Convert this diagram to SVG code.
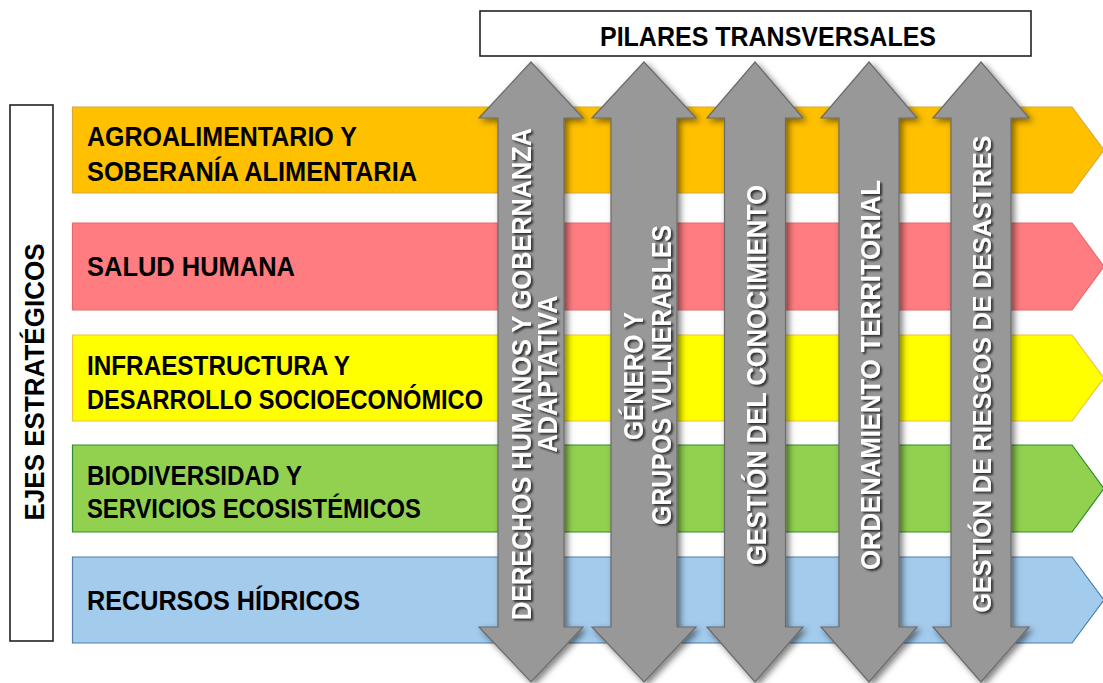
<svg xmlns="http://www.w3.org/2000/svg" width="1103" height="683" viewBox="0 0 1103 683">
<defs>
<filter id="ash" x="-20%" y="-10%" width="150%" height="130%">
<feDropShadow dx="3" dy="3" stdDeviation="3" flood-color="#000" flood-opacity="0.5"/>
</filter>
<filter id="tsh" x="-20%" y="-20%" width="140%" height="160%">
<feDropShadow dx="2" dy="2" stdDeviation="1.2" flood-color="#000" flood-opacity="0.7"/>
</filter>
</defs>
<style>
.bt{font-family:"Liberation Sans",Arial,sans-serif;font-weight:bold;font-size:27px;fill:#000}
.at{font-family:"Liberation Sans",Arial,sans-serif;font-weight:bold;font-size:27px;fill:#fff;text-anchor:middle}
.arr{fill:#989898;stroke:#6b6b6b;stroke-width:1.2}
.box{fill:#fff;stroke:#222;stroke-width:1.6}
</style>
<rect width="1103" height="683" fill="#fff"/>

<g id="ejes-box">
<rect class="box" x="10" y="105" width="43" height="536"/>
<text class="bt" text-anchor="middle" transform="translate(44,382) rotate(-90)" textLength="277" lengthAdjust="spacingAndGlyphs">EJES ESTRATÉGICOS</text>
</g>

<g id="pilares-box">
<rect class="box" x="480" y="11" width="551" height="45"/>
<text class="bt" x="768" y="46" text-anchor="middle" textLength="336" lengthAdjust="spacingAndGlyphs">PILARES TRANSVERSALES</text>
</g>

<g id="band-agro">
<path d="M72.5,107 H1072 L1104,150 L1072,193 H72.5 Z" fill="#FFC000" stroke="#D9A83A" stroke-width="1.2"/>
<text class="bt" x="87" y="146" textLength="270" lengthAdjust="spacingAndGlyphs">AGROALIMENTARIO Y</text>
<text class="bt" x="87" y="181" textLength="330" lengthAdjust="spacingAndGlyphs">SOBERANÍA ALIMENTARIA</text>
</g>
<g id="band-salud">
<path d="M72.5,223 H1072 L1104,266.5 L1072,310 H72.5 Z" fill="#FF7C80" stroke="#E8686C" stroke-width="1.2"/>
<text class="bt" x="87" y="276" textLength="208" lengthAdjust="spacingAndGlyphs">SALUD HUMANA</text>
</g>
<g id="band-infra">
<path d="M72.5,335 H1072 L1104,378 L1072,421 H72.5 Z" fill="#FFFF00" stroke="#F0C040" stroke-width="1.2"/>
<text class="bt" x="87" y="375" textLength="263" lengthAdjust="spacingAndGlyphs">INFRAESTRUCTURA Y</text>
<text class="bt" x="87" y="409" textLength="396" lengthAdjust="spacingAndGlyphs">DESARROLLO SOCIOECONÓMICO</text>
</g>
<g id="band-bio">
<path d="M72.5,445 H1072 L1104,488.5 L1072,532 H72.5 Z" fill="#92D050" stroke="#2E8B2E" stroke-width="1.2"/>
<text class="bt" x="87" y="485" textLength="215" lengthAdjust="spacingAndGlyphs">BIODIVERSIDAD Y</text>
<text class="bt" x="87" y="518" textLength="334" lengthAdjust="spacingAndGlyphs">SERVICIOS ECOSISTÉMICOS</text>
</g>
<g id="band-hidricos">
<path d="M72.5,557 H1072 L1104,600 L1072,643 H72.5 Z" fill="#A3CBEC" stroke="#4F7FAA" stroke-width="1.2"/>
<text class="bt" x="87" y="610" textLength="273" lengthAdjust="spacingAndGlyphs">RECURSOS HÍDRICOS</text>
</g>

<g id="pilar-derechos">
<path class="arr" filter="url(#ash)" d="M531,62 L583,118 H564 V627 H583 L531,682 L479,627 H498 V118 H479 Z"/>
<g filter="url(#tsh)">
<text class="at" transform="translate(531,374) rotate(-90)" textLength="492" lengthAdjust="spacingAndGlyphs">DERECHOS HUMANOS Y GOBERNANZA</text>
<text class="at" transform="translate(557,374) rotate(-90)" textLength="157" lengthAdjust="spacingAndGlyphs">ADAPTATIVA</text>
</g>
</g>
<g id="pilar-genero">
<path class="arr" filter="url(#ash)" d="M644,62 L696,118 H677 V627 H696 L644,682 L592,627 H611 V118 H592 Z"/>
<g filter="url(#tsh)">
<text class="at" transform="translate(643,376) rotate(-90)" textLength="128" lengthAdjust="spacingAndGlyphs">GÉNERO Y</text>
<text class="at" transform="translate(671,375) rotate(-90)" textLength="300" lengthAdjust="spacingAndGlyphs">GRUPOS VULNERABLES</text>
</g>
</g>
<g id="pilar-conocimiento">
<path class="arr" filter="url(#ash)" d="M755,62 L803,118 H785.5 V627 H803 L755,682 L707,627 H724.5 V118 H707 Z"/>
<g filter="url(#tsh)">
<text class="at" transform="translate(766,375) rotate(-90)" textLength="380" lengthAdjust="spacingAndGlyphs">GESTIÓN DEL CONOCIMIENTO</text>
</g>
</g>
<g id="pilar-ordenamiento">
<path class="arr" filter="url(#ash)" d="M869,62 L917,118 H899 V627 H917 L869,682 L821,627 H839 V118 H821 Z"/>
<g filter="url(#tsh)">
<text class="at" transform="translate(880,375) rotate(-90)" textLength="390" lengthAdjust="spacingAndGlyphs">ORDENAMIENTO TERRITORIAL</text>
</g>
</g>
<g id="pilar-riesgos">
<path class="arr" filter="url(#ash)" d="M981,62 L1029,118 H1011 V627 H1029 L981,682 L933,627 H951 V118 H933 Z"/>
<g filter="url(#tsh)">
<text class="at" style="font-size:26px" transform="translate(991,374) rotate(-90)" textLength="477" lengthAdjust="spacingAndGlyphs">GESTIÓN DE RIESGOS DE DESASTRES</text>
</g>
</g>
</svg>
